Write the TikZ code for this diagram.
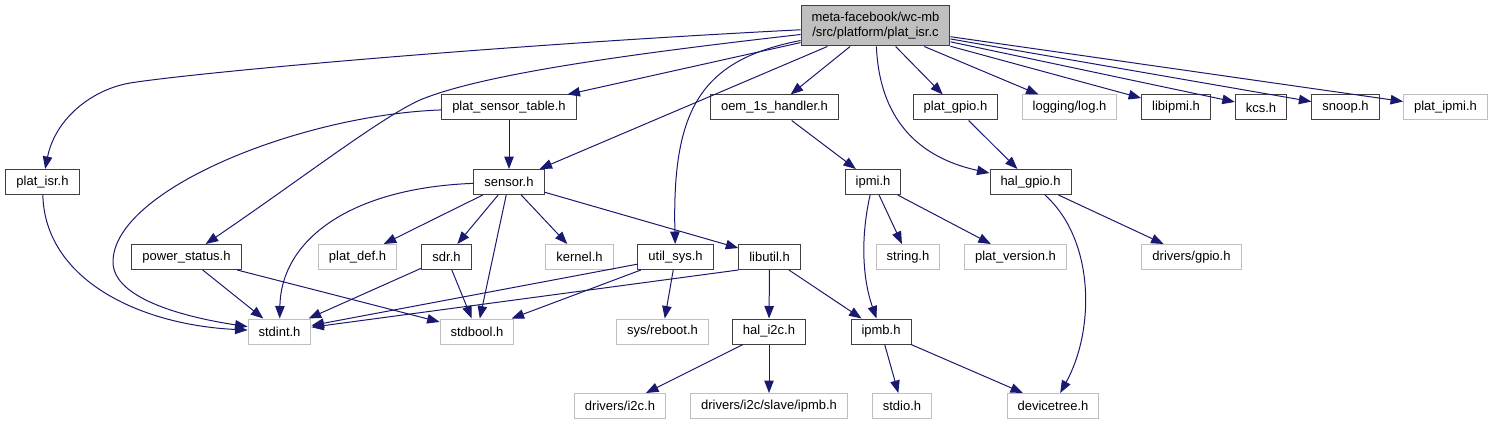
\documentclass[tikz,border=0pt]{standalone}
\usepackage{fontspec}
\setmainfont{Liberation Sans}
\usepackage{xcolor}
\usetikzlibrary{arrows.meta}
\definecolor{edgeblue}{HTML}{191970}
\definecolor{boxgray}{HTML}{BFBFBF}
\tikzset{
  hdr/.style={draw=black!75, fill=white, line width=1pt, inner xsep=10.5pt, inner ysep=0pt, minimum height=25pt, font=\fontsize{13}{15}\selectfont},
  ext/.style={hdr, draw=boxgray},
  rootbox/.style={hdr, fill=boxgray, align=center, minimum height=40pt},
  line/.style={-{Triangle[length=12.5pt,width=9.5pt]}, draw=edgeblue, line width=1pt}
}
\begin{document}
\begin{tikzpicture}[x=1pt,y=-1pt]
  \useasboundingbox (0,0) rectangle (1493,425);
  \node[rootbox] (root) at (875.5,26) {meta-facebook/wc-mb\\/src/platform/plat\_isr.c};
  \node[hdr] (senstab) at (509,107.5) {plat\_sensor\_table.h};
  \node[hdr] (oem) at (774.5,107.5) {oem\_1s\_handler.h};
  \node[hdr] (platgpio) at (955.5,107.5) {plat\_gpio.h};
  \node[ext] (log) at (1069.5,107.5) {logging/log.h};
  \node[hdr] (libipmi) at (1176,107.5) {libipmi.h};
  \node[hdr] (kcs) at (1261,107.5) {kcs.h};
  \node[hdr] (snoop) at (1345.5,107.5) {snoop.h};
  \node[ext] (platipmi) at (1445.5,107.5) {plat\_ipmi.h};
  \node[hdr] (platisr) at (42.5,182) {plat\_isr.h};
  \node[hdr] (sensor) at (509,182) {sensor.h};
  \node[hdr] (ipmi) at (873,182) {ipmi.h};
  \node[hdr] (halgpio) at (1030.5,182) {hal\_gpio.h};
  \node[hdr] (power) at (186.5,257) {power\_status.h};
  \node[ext] (platdef) at (357.5,257) {plat\_def.h};
  \node[hdr] (sdr) at (446.5,257) {sdr.h};
  \node[ext] (kernel) at (579.5,257) {kernel.h};
  \node[hdr] (utilsys) at (675.5,257) {util\_sys.h};
  \node[hdr] (libutil) at (769.5,257) {libutil.h};
  \node[ext] (string) at (908,257) {string.h};
  \node[ext] (platver) at (1015.5,257) {plat\_version.h};
  \node[ext] (drvgpio) at (1191.5,257) {drivers/gpio.h};
  \node[ext] (stdint) at (279.5,331.5) {stdint.h};
  \node[ext] (stdbool) at (477,331.5) {stdbool.h};
  \node[ext] (reboot) at (662.5,331.5) {sys/reboot.h};
  \node[hdr] (hali2c) at (769,331.5) {hal\_i2c.h};
  \node[hdr] (ipmb) at (881,331.5) {ipmb.h};
  \node[ext] (drvi2c) at (620,406) {drivers/i2c.h};
  \node[ext] (i2cslave) at (769,406) {drivers/i2c/slave/ipmb.h};
  \node[ext] (stdio) at (902,406) {stdio.h};
  \node[ext] (devtree) at (1053,406) {devicetree.h};

  \draw[line] (root) .. controls (500,45) and (200,72) .. (130,83) .. controls (90,90) and (55,120) .. (platisr);
  \draw[line] (root) .. controls (620,55) and (480,75) .. (420,100) .. controls (380,118) and (300,180) .. (power);
  \draw[line] (root) -- (senstab);
  \draw[line] (root) -- (sensor);
  \draw[line] (root) .. controls (700,60) and (672,110) .. (utilsys);
  \draw[line] (root) -- (oem);
  \draw[line] (root) .. controls (880,130) and (930,160) .. (halgpio);
  \draw[line] (root) -- (platgpio);
  \draw[line] (root) -- (log);
  \draw[line] (root) -- (libipmi);
  \draw[line] (root) -- (kcs);
  \draw[line] (root) -- (snoop);
  \draw[line] (root) -- (platipmi);
  \draw[line] (senstab) -- (sensor);
  \draw[line] (senstab) .. controls (300,115) and (113,190) .. (113,262) .. controls (113,300) and (190,318) .. (stdint);
  \draw[line] (oem) -- (ipmi);
  \draw[line] (platgpio) -- (halgpio);
  \draw[line] (platisr) .. controls (45,280) and (140,325) .. (stdint);
  \draw[line] (sensor) .. controls (350,188) and (281,240) .. (stdint);
  \draw[line] (sensor) -- (platdef);
  \draw[line] (sensor) -- (sdr);
  \draw[line] (sensor) -- (stdbool);
  \draw[line] (sensor) -- (kernel);
  \draw[line] (sensor) -- (libutil);
  \draw[line] (ipmi) .. controls (860,240) and (863,280) .. (ipmb);
  \draw[line] (ipmi) -- (string);
  \draw[line] (ipmi) -- (platver);
  \draw[line] (halgpio) -- (drvgpio);
  \draw[line] (halgpio) .. controls (1095,240) and (1095,330) .. (devtree);
  \draw[line] (power) -- (stdint);
  \draw[line] (power) -- (stdbool);
  \draw[line] (sdr) -- (stdint);
  \draw[line] (sdr) -- (stdbool);
  \draw[line] (utilsys) -- (stdint);
  \draw[line] (utilsys) -- (stdbool);
  \draw[line] (utilsys) -- (reboot);
  \draw[line] (libutil.south west) -- (stdint);
  \draw[line] (libutil) -- (hali2c);
  \draw[line] (libutil) -- (ipmb);
  \draw[line] (hali2c) -- (drvi2c);
  \draw[line] (hali2c) -- (i2cslave);
  \draw[line] (ipmb) -- (stdio);
  \draw[line] (ipmb) -- (devtree);
\end{tikzpicture}
\end{document}
